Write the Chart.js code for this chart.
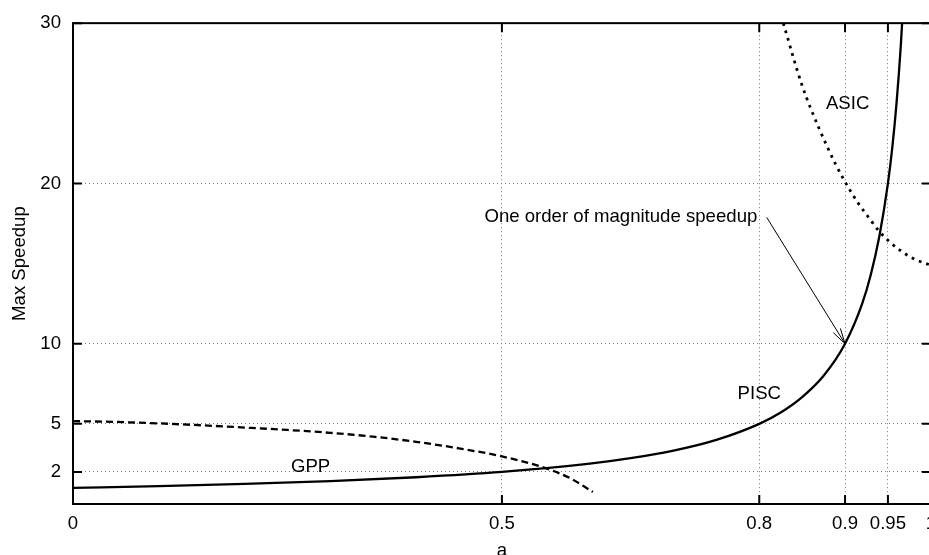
<!DOCTYPE html>
<html>
<head>
<meta charset="utf-8">
<script src="https://cdn.jsdelivr.net/npm/chart.js@4/dist/chart.umd.min.js"></script>
<style>
  html, body { margin: 0; padding: 0; background: #fff; overflow: hidden; }
  #wrap { width: 945px; height: 555px; }
</style>
</head>
<body>
<div id="wrap"><canvas id="c" width="945" height="555"></canvas></div>
<script>
// values
const X_TICKS = [0, 0.5, 0.8, 0.9, 0.95, 1];
const Y_TICKS = [2, 5, 10, 20, 30];

const PISC_A = [0, 0.1, 0.2, 0.3, 0.4, 0.5, 0.6, 0.65, 0.7, 0.75, 0.8, 0.825, 0.85, 0.875, 0.9, 0.92, 0.93, 0.94, 0.95, 0.955, 0.96, 0.965, 0.97];
const PISC_S = [1, 1.11, 1.25, 1.43, 1.67, 2, 2.5, 2.86, 3.33, 4, 5, 5.71, 6.67, 8, 10, 12.5, 14.3, 16.7, 20, 22.2, 25, 28.6, 33.3];

const GPP_A = [0, 0.05, 0.1, 0.15, 0.2, 0.25, 0.3, 0.35, 0.4, 0.45, 0.5, 0.55, 0.58, 0.606];
const GPP_S = [5.17, 5.12, 5.03, 4.91, 4.77, 4.62, 4.44, 4.2, 3.88, 3.47, 2.97, 2.25, 1.6, 0.75];

const ASIC_A = [0.828, 0.85, 0.87, 0.889, 0.9, 0.915, 0.93, 0.94, 0.95, 0.965, 0.98, 1];
const ASIC_S = [30, 26.1, 23.4, 21.2, 20.1, 18.8, 17.7, 17.0, 16.45, 15.8, 15.3, 14.9];

// labels placed in data coordinates (like gnuplot "set label at")
const LABELS = [
  { text: "GPP", a: 0.277, s: 2.02, align: "center" },
  { text: "PISC", a: 0.8, s: 6.58, align: "center" },
  { text: "ASIC", a: 0.903, s: 24.63, align: "center" },
  { text: "One order of magnitude speedup", a: 0.4796, s: 17.58, align: "left" },
];
const ARROW_FROM = [0.8087, 17.88];
const ARROW_TO = [0.9, 10];

const FONT = "Liberation Sans, Arial, Helvetica, sans-serif";
const FS = 18.6;

function pts(xs, ys) {
  return xs.map((x, i) => ({ x: x, y: ys[i] }));
}

const frame = {
  id: "frame",
  afterDraw(chart) {
    const { ctx, chartArea: ca, scales } = chart;
    const xs = scales.x, ys = scales.y;
    ctx.save();
    ctx.fillStyle = "#000";
    ctx.strokeStyle = "#000";

    // arrow
    const x0 = xs.getPixelForValue(ARROW_FROM[0]), y0 = ys.getPixelForValue(ARROW_FROM[1]);
    const x1 = xs.getPixelForValue(ARROW_TO[0]), y1 = ys.getPixelForValue(ARROW_TO[1]);
    ctx.lineWidth = 1;
    ctx.beginPath();
    ctx.moveTo(x0, y0);
    ctx.lineTo(x1, y1);
    const ang = Math.atan2(y1 - y0, x1 - x0);
    for (const d of [-0.26, 0.26]) {
      ctx.moveTo(x1, y1);
      ctx.lineTo(x1 - 16 * Math.cos(ang + d), y1 - 16 * Math.sin(ang + d));
    }
    ctx.stroke();

    // labels
    ctx.font = FS + "px " + FONT;
    ctx.textBaseline = "alphabetic";
    LABELS.forEach(l => {
      ctx.textAlign = l.align;
      ctx.fillText(l.text, xs.getPixelForValue(l.a), ys.getPixelForValue(l.s));
    });

    // inward tick marks on all four sides
    ctx.lineWidth = 2;
    ctx.beginPath();
    X_TICKS.forEach(v => {
      const p = xs.getPixelForValue(v);
      ctx.moveTo(p, ca.bottom); ctx.lineTo(p, ca.bottom - 9);
      ctx.moveTo(p, ca.top); ctx.lineTo(p, ca.top + 9);
    });
    Y_TICKS.forEach(v => {
      const p = ys.getPixelForValue(v);
      ctx.moveTo(ca.left, p); ctx.lineTo(ca.left + 9, p);
      ctx.moveTo(ca.right, p); ctx.lineTo(ca.right - 9, p);
    });
    ctx.stroke();

    // box
    ctx.strokeRect(ca.left, ca.top, ca.right - ca.left, ca.bottom - ca.top);

    // axis titles
    ctx.textAlign = "center";
    ctx.fillText("a", (ca.left + ca.right) / 2, 556);
    ctx.translate(24.5, (ca.top + ca.bottom) / 2);
    ctx.rotate(-Math.PI / 2);
    ctx.fillText("Max Speedup", 0, 0);
    ctx.restore();
  }
};

const gridOpts = {
  color: "#777",
  lineWidth: 1,
  drawTicks: false,
};

new Chart(document.getElementById("c"), {
  type: "line",
  data: {
    datasets: [
      {
        label: "PISC",
        data: pts(PISC_A, PISC_S),
        borderColor: "#000",
        borderWidth: 2.3,
        pointRadius: 0,
        cubicInterpolationMode: "monotone",
      },
      {
        label: "GPP",
        data: pts(GPP_A, GPP_S),
        borderColor: "#000",
        borderWidth: 2.3,
        borderDash: [7, 4],
        pointRadius: 0,
        cubicInterpolationMode: "monotone",
      },
      {
        label: "ASIC",
        data: pts(ASIC_A, ASIC_S),
        borderColor: "#000",
        borderWidth: 2.8,
        borderDash: [2.8, 5],
        pointRadius: 0,
        cubicInterpolationMode: "monotone",
      },
    ],
  },
  options: {
    responsive: false,
    animation: false,
    devicePixelRatio: 1,
    layout: { padding: { left: 0, right: 13, top: 22, bottom: 0 } },
    plugins: { legend: { display: false }, tooltip: { enabled: false } },
    scales: {
      x: {
        type: "linear",
        min: 0,
        max: 1,
        grid: gridOpts,
        border: { display: false, dash: [1, 3] },
        afterBuildTicks: s => { s.ticks = X_TICKS.map(v => ({ value: v })); },
        afterFit: s => { s.height = 51; },
        ticks: {
          autoSkip: false,
          maxRotation: 0,
          padding: 9,
          color: "#000",
          font: { family: FONT, size: FS },
          callback: v => String(v),
        },
      },
      y: {
        type: "linear",
        min: 0,
        max: 30,
        grid: gridOpts,
        border: { display: false, dash: [1, 3] },
        afterBuildTicks: s => { s.ticks = Y_TICKS.map(v => ({ value: v })); },
        afterFit: s => { s.width = 73; },
        ticks: {
          autoSkip: false,
          padding: 12,
          color: "#000",
          font: { family: FONT, size: FS },
          callback: v => String(v),
        },
      },
    },
  },
  plugins: [frame],
});
</script>
</body>
</html>
